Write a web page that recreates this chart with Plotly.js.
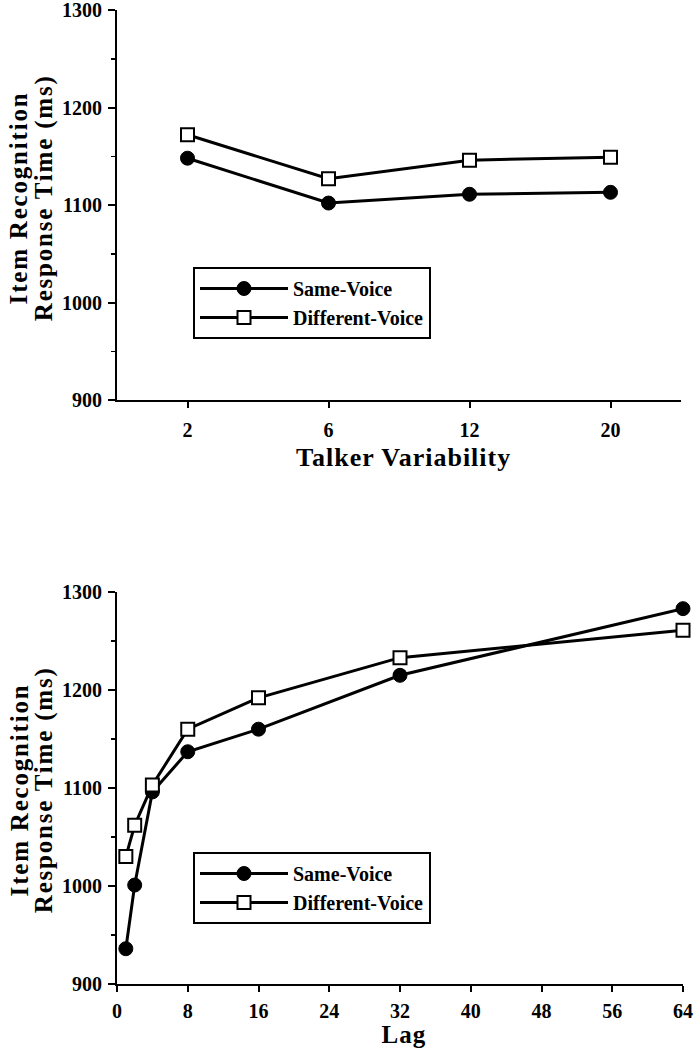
<!DOCTYPE html>
<html>
<head>
<meta charset="utf-8">
<script src="https://cdn.plot.ly/plotly-3.0.1.min.js"></script>
<style>
html,body{margin:0;padding:0;background:#fff;}
.annotation[data-index="0"] text, .annotation[data-index="1"] text { letter-spacing: 1px; }
.annotation[data-index="2"] text, .annotation[data-index="3"] text,
.annotation[data-index="4"] text, .annotation[data-index="5"] text { letter-spacing: 1.8px; }
</style>
</head>
<body>
<div id="chart" style="width:694px;height:1050px;"></div>
<script>
// Top panel: talker variability
const talkerLabels = ["2", "6", "12", "20"];
const talkerSame = [1148, 1102, 1111, 1113];
const talkerDiff = [1172, 1127, 1146, 1149];

// Bottom panel: lag
const lags = [1, 2, 4, 8, 16, 32, 64];
const lagSame = [936, 1001, 1096, 1137, 1160, 1215, 1283];
const lagDiff = [1030, 1062, 1103, 1160, 1192, 1233, 1261];
const lagTicks = [0, 8, 16, 24, 32, 40, 48, 56, 64];

const yTicks = [900, 1000, 1100, 1200, 1300];
const seriesNames = ["Same-Voice", "Different-Voice"];

const FONT = "Liberation Serif, Times New Roman, serif";
const black = "#000";

function sameStyle() {
  return {mode: "lines+markers", line: {color: black, width: 3},
    marker: {symbol: "circle", size: 14, color: black, line: {color: black, width: 1}}, cliponaxis: false};
}
function diffStyle() {
  return {mode: "lines+markers", line: {color: black, width: 3},
    marker: {symbol: "square", size: 13, color: "#fff", line: {color: black, width: 2}}, cliponaxis: false};
}

const traces = [
  Object.assign({x: talkerLabels, y: talkerSame, name: seriesNames[0], xaxis: "x", yaxis: "y", legend: "legend"}, sameStyle()),
  Object.assign({x: talkerLabels, y: talkerDiff, name: seriesNames[1], xaxis: "x", yaxis: "y", legend: "legend"}, diffStyle()),
  Object.assign({x: lags, y: lagSame, name: seriesNames[0], xaxis: "x2", yaxis: "y2", legend: "legend2"}, sameStyle()),
  Object.assign({x: lags, y: lagDiff, name: seriesNames[1], xaxis: "x2", yaxis: "y2", legend: "legend2"}, diffStyle())
];

const tickFont = {family: FONT, size: 20, color: black, weight: "bold"};

function yAxis(domain, anchor) {
  return {
    domain: domain, anchor: anchor, range: [900, 1300], tickvals: yTicks,
    ticks: "outside", ticklen: 7, tickwidth: 2, tickcolor: black,
    showline: true, linecolor: black, linewidth: 2, showgrid: false, zeroline: false,
    tickfont: tickFont, ticklabelstandoff: 2, ticklabeloverflow: "allow",
    minor: {dtick: 50, ticks: "outside", ticklen: 4, tickwidth: 1.5, tickcolor: black, showgrid: false},
    fixedrange: true
  };
}

const PT = 10, PB = 66, PH = 1050 - PT - PB;
function py(pix) { return 1 - (pix - PT) / PH; }
const PL = 117, PR = 11, PW = 694 - PL - PR;
function px(pix) { return (pix - PL) / PW; }

const titleFont = {family: FONT, size: 26, color: black, weight: "bold"};
const lagFont = {family: FONT, size: 25, color: black, weight: "bold"};
const yTitleFont = {family: FONT, size: 25, color: black, weight: "bold"};

const annotations = [
  {text: "Talker Variability", xref: "paper", yref: "paper", x: px(403), y: py(458), xanchor: "center", yanchor: "middle", showarrow: false, font: titleFont, borderpad: 0},
  {text: "Lag", xref: "paper", yref: "paper", x: px(404), y: py(1049), xanchor: "center", yanchor: "bottom", showarrow: false, font: lagFont, borderpad: 0},
  {text: "Item Recognition", xref: "paper", yref: "paper", x: px(19), y: py(198), xanchor: "center", yanchor: "middle", textangle: -90, showarrow: false, font: yTitleFont},
  {text: "Response Time (ms)", xref: "paper", yref: "paper", x: px(44), y: py(198), xanchor: "center", yanchor: "middle", textangle: -90, showarrow: false, font: yTitleFont},
  {text: "Item Recognition", xref: "paper", yref: "paper", x: px(19), y: py(790), xanchor: "center", yanchor: "middle", textangle: -90, showarrow: false, font: yTitleFont},
  {text: "Response Time (ms)", xref: "paper", yref: "paper", x: px(44), y: py(790), xanchor: "center", yanchor: "middle", textangle: -90, showarrow: false, font: yTitleFont}
];

const legendFont = {family: FONT, size: 20, color: black, weight: "bold"};
function legendCfg(yPix) {
  return {x: px(193), y: py(yPix), xanchor: "left", yanchor: "top", bgcolor: "#fff",
    bordercolor: black, borderwidth: 2, font: legendFont, itemwidth: 88, tracegroupgap: 0};
}

const layout = {
  width: 694, height: 1050,
  margin: {l: PL, r: PR, t: PT, b: PB},
  paper_bgcolor: "#fff", plot_bgcolor: "#fff",
  showlegend: true,
  legend: legendCfg(267),
  legend2: legendCfg(852),
  xaxis: {
    domain: [0, px(681)], anchor: "y", type: "category", range: [-0.5, 3.5],
    ticks: "outside", ticklen: 6, tickwidth: 2, tickcolor: black,
    showline: true, linecolor: black, linewidth: 2, showgrid: false, zeroline: false,
    tickfont: tickFont, ticklabelstandoff: 5, fixedrange: true
  },
  yaxis: yAxis([py(400), 1], "x"),
  xaxis2: {
    domain: [0, 1], anchor: "y2", range: [0, 64], tickvals: lagTicks,
    ticks: "outside", ticklen: 6, tickwidth: 2, tickcolor: black,
    showline: true, linecolor: black, linewidth: 2, showgrid: false, zeroline: false,
    tickfont: tickFont, ticklabelstandoff: 2, ticklabeloverflow: "allow", fixedrange: true
  },
  yaxis2: yAxis([py(984), py(592)], "x2"),
  annotations: annotations
};

Plotly.newPlot("chart", traces, layout, {displayModeBar: false, staticPlot: true});
</script>
</body>
</html>
